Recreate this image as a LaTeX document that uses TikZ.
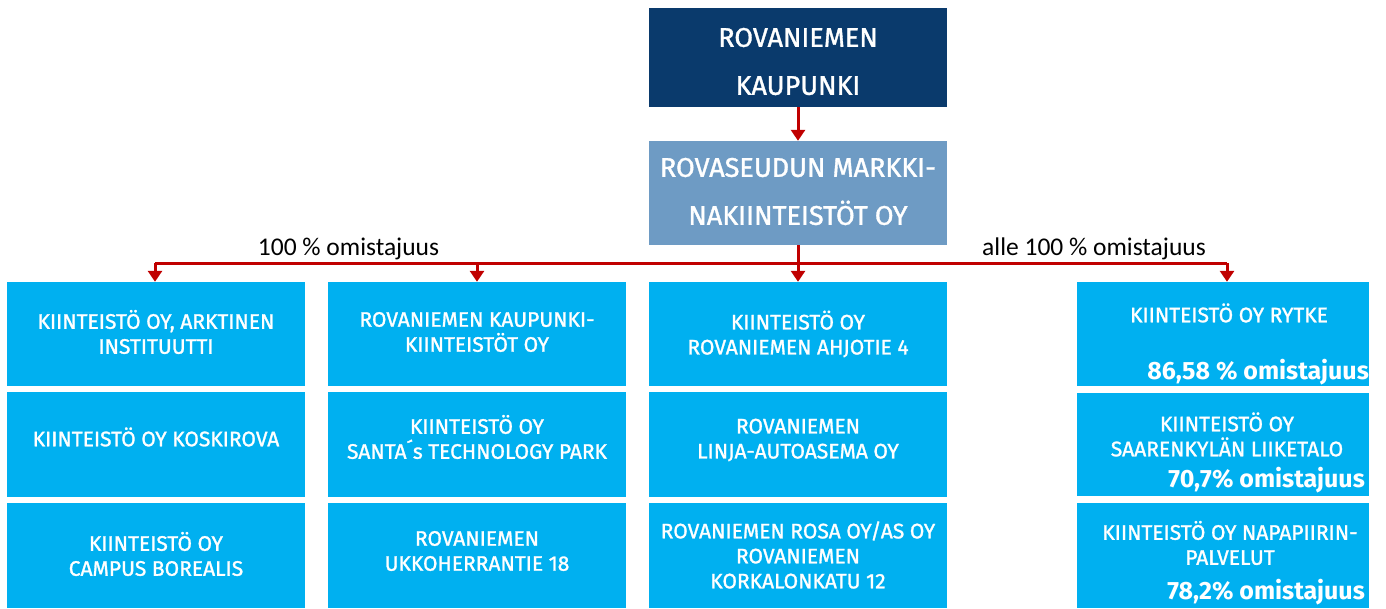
\documentclass[tikz,border=0pt]{standalone}
\usepackage{fontspec}
\setmainfont{Fira Sans}
\newfontfamily\boxfont{Fira Sans}[FakeBold=1.3]
\newfontfamily\lblfont{Carlito}
\usetikzlibrary{arrows.meta}
\definecolor{navy}{RGB}{10,58,108}
\definecolor{steel}{RGB}{110,155,196}
\definecolor{cyanbox}{RGB}{0,176,240}
\definecolor{darkred}{RGB}{192,0,0}
\begin{document}
\begin{tikzpicture}[x=1pt,y=-1pt,
  bigbox/.style={draw=none,text=white,inner sep=0pt,minimum width=298pt,align=center,
     font=\boxfont\fontsize{27}{48}\selectfont},
  lbox/.style={fill=cyanbox,inner sep=0pt,minimum width=298pt,minimum height=105pt},
  ltxt/.style={text=white,inner sep=0pt,align=center,font=\boxfont\fontsize{21}{25}\selectfont},
  rbox/.style={fill=cyanbox,inner sep=0pt,minimum width=292pt,minimum height=104pt},
  pct/.style={text=white,inner sep=0pt,anchor=base east,font=\fontsize{25}{30}\selectfont\bfseries},
  lbl/.style={inner sep=0pt,anchor=base,font=\lblfont\fontsize{25.5}{30}\selectfont},
  arr/.style={draw=darkred,line width=3pt,-{Triangle[width=14pt,length=11pt]}},
  bus/.style={draw=darkred,line width=3pt}]
\useasboundingbox (0,0) rectangle (1386,608);

\node[bigbox,fill=navy,minimum height=99pt] (top) at (798,57.5) {};
\node[bigbox] (topt) at (798,61.5) {ROVANIEMEN\\KAUPUNKI};
\node[bigbox,fill=steel,minimum height=104pt] (mid) at (798,193) {};
\node[bigbox] (midt) at (798,191.5) {ROVASEUDUN MARKKI-\\NAKIINTEISTÖT OY};

% column 1
\node[lbox,minimum height=104pt] (a1) at (156,334) {};
\node[lbox] (a2) at (156,444.5) {};
\node[lbox] (a3) at (156,555.5) {};
\node[ltxt] (a1t) at (156,332) {KIINTEISTÖ OY, ARKTINEN\\INSTITUUTTI};
\node[ltxt] (a2t) at (156,437) {KIINTEISTÖ OY KOSKIROVA};
\node[ltxt] (a3t) at (156,554) {KIINTEISTÖ OY\\CAMPUS BOREALIS};
% column 2
\node[lbox,minimum height=104pt] (b1) at (477,334) {};
\node[lbox] (b2) at (477,444.5) {};
\node[lbox] (b3) at (477,555.5) {};
\node[ltxt] (b1t) at (477,332) {ROVANIEMEN KAUPUNKI-\\KIINTEISTÖT OY};
\node[ltxt] (b2t) at (477,437) {KIINTEISTÖ OY\\SANTA´s TECHNOLOGY PARK};
\node[ltxt] (b3t) at (477,551) {ROVANIEMEN\\UKKOHERRANTIE 18};
% column 3
\node[lbox,minimum height=104pt] (c1) at (798,334) {};
\node[lbox] (c2) at (798,444.5) {};
\node[lbox] (c3) at (798,555.5) {};
\node[ltxt] (c1t) at (798,334) {KIINTEISTÖ OY\\ROVANIEMEN AHJOTIE 4};
\node[ltxt] (c2t) at (798,440) {ROVANIEMEN\\LINJA-AUTOASEMA OY};
\node[ltxt] (c3t) at (798,555) {ROVANIEMEN ROSA OY/AS OY\\ROVANIEMEN\\KORKALONKATU 12};
% column 4
\node[rbox] (d1) at (1223,334) {};
\node[rbox,minimum height=103pt] (d2) at (1223,444.5) {};
\node[rbox,minimum height=105pt] (d3) at (1223,555.5) {};
\node[ltxt] (d1t) at (1229,313) {KIINTEISTÖ OY RYTKE};
\node[pct] (d1p) at (1369,379) {86,58 \% omistajuus};
\node[ltxt] (d2t) at (1227,434.5) {KIINTEISTÖ OY\\SAARENKYLÄN LIIKETALO};
\node[pct] (d2p) at (1365,487) {70,7\% omistajuus};
\node[ltxt] (d3t) at (1230,543) {KIINTEISTÖ OY NAPAPIIRIN-\\PALVELUT};
\node[pct] (d3p) at (1365,599) {78,2\% omistajuus};

% labels
\node[lbl] (l1) at (348.5,255) {100 \% omistajuus};
\node[lbl] (l2) at (1094,255) {alle 100 \% omistajuus};

% connectors
\coordinate (bl) at (155,263);
\coordinate (br) at (1227,263);
\draw[arr] (top.south) -- (mid.north);
\draw[bus] (bl) -- (br);
\draw[arr] (mid.south) -- (c1.north);
\draw[arr] (bl) -- (bl |- a1.north);
\draw[arr] (b1.north |- bl) -- (b1.north);
\draw[arr] (br) -- (br |- d1.north);
\end{tikzpicture}
\end{document}
